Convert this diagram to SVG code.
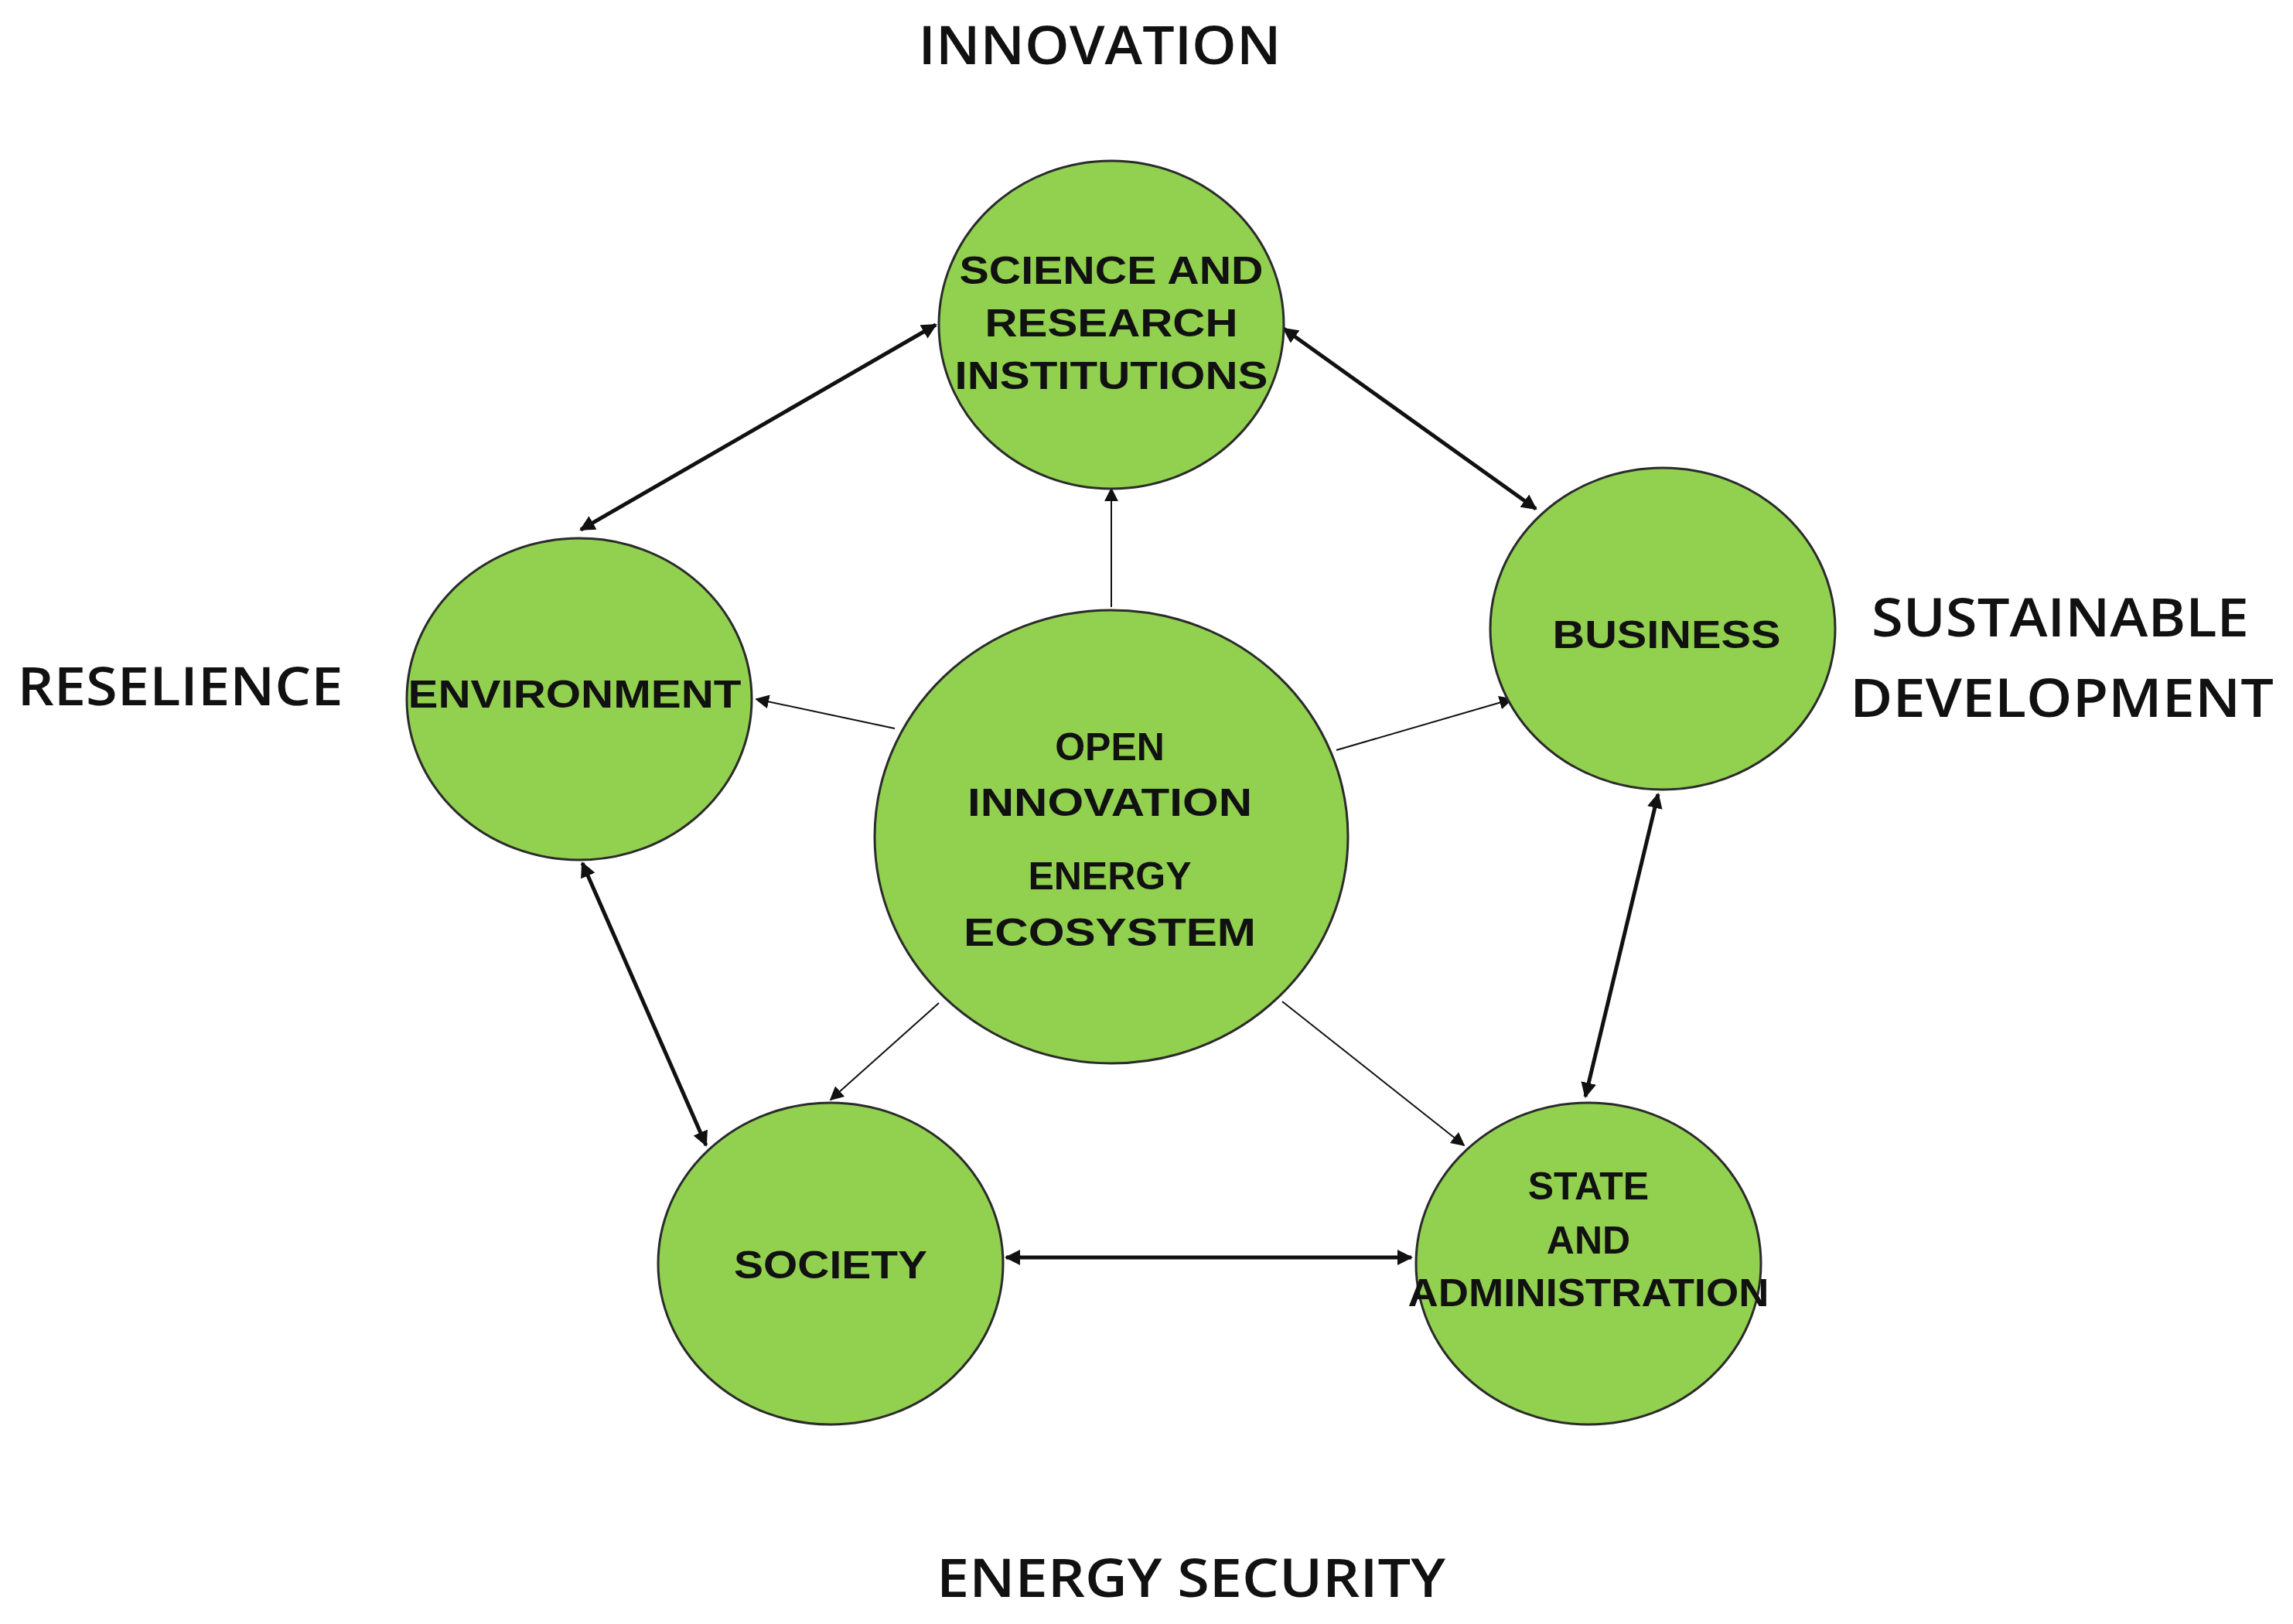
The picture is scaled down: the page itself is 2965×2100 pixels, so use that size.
<svg xmlns="http://www.w3.org/2000/svg" width="2965" height="2100" viewBox="0 0 2965 2100">
<style>
.n{fill:#92D050;stroke:#2b2b2b;stroke-width:3}
.t{font-family:"Liberation Sans",Arial,sans-serif;font-weight:bold;font-size:50px;fill:#111;text-anchor:middle}
.h{font-family:"Open Sans","Liberation Sans",sans-serif;font-weight:600;font-size:68px;fill:#111;text-anchor:middle}
.thick{stroke:#111;stroke-width:5;fill:none;marker-start:url(#a);marker-end:url(#a)}
.thin{stroke:#111;stroke-width:2;fill:none;marker-end:url(#b)}
</style>
<defs>
<marker id="a" viewBox="0 0 10 10" refX="9" refY="5" markerWidth="4" markerHeight="4" orient="auto-start-reverse" markerUnits="strokeWidth"><path d="M0,0L10,5L0,10z" fill="#111"/></marker>
<marker id="b" viewBox="0 0 10 10" refX="9" refY="5" markerWidth="9" markerHeight="9" orient="auto" markerUnits="strokeWidth"><path d="M0,0L10,5L0,10z" fill="#111"/></marker>
</defs>
<rect width="2965" height="2100" fill="#fff"/>
<g id="labels">
<text class="h" x="1422" y="83" textLength="469" lengthAdjust="spacingAndGlyphs">INNOVATION</text>
<text class="h" x="233" y="912" textLength="421" lengthAdjust="spacingAndGlyphs">RESELIENCE</text>
<text class="h" x="2664" y="823" textLength="488" lengthAdjust="spacingAndGlyphs">SUSTAINABLE</text>
<text class="h" x="2666" y="927" textLength="548" lengthAdjust="spacingAndGlyphs">DEVELOPMENT</text>
<text class="h" x="1540" y="2065" textLength="658" lengthAdjust="spacingAndGlyphs">ENERGY SECURITY</text>
</g>
<g id="connectors">
<line class="thick" x1="1210" y1="420" x2="751" y2="685"/>
<line class="thick" x1="1660" y1="425" x2="1986" y2="658"/>
<line class="thick" x1="2144" y1="1027" x2="2050" y2="1418"/>
<line class="thick" x1="753" y1="1116" x2="913" y2="1481"/>
<line class="thick" x1="1301" y1="1626" x2="1825" y2="1626"/>
<line class="thin" x1="1437" y1="785" x2="1437" y2="632"/>
<line class="thin" x1="1157" y1="942" x2="978" y2="904"/>
<line class="thin" x1="1728" y1="970" x2="1955" y2="904"/>
<line class="thin" x1="1214" y1="1297" x2="1074" y2="1422"/>
<line class="thin" x1="1658" y1="1295" x2="1893" y2="1481"/>
</g>
<g id="science"><ellipse class="n" cx="1437" cy="420" rx="223" ry="212"/>
<text class="t" x="1437" y="367" textLength="393" lengthAdjust="spacingAndGlyphs">SCIENCE AND</text>
<text class="t" x="1437" y="435" textLength="327" lengthAdjust="spacingAndGlyphs">RESEARCH</text>
<text class="t" x="1437" y="503" textLength="405" lengthAdjust="spacingAndGlyphs">INSTITUTIONS</text></g>
<g id="business"><ellipse class="n" cx="2150" cy="813" rx="223" ry="208"/>
<text class="t" x="2155" y="838" textLength="295" lengthAdjust="spacingAndGlyphs">BUSINESS</text></g>
<g id="environment"><ellipse class="n" cx="749" cy="904" rx="223" ry="208"/>
<text class="t" x="743" y="915" textLength="431" lengthAdjust="spacingAndGlyphs">ENVIRONMENT</text></g>
<g id="center"><ellipse class="n" cx="1437" cy="1082" rx="306" ry="293"/>
<text class="t" x="1435" y="983">OPEN</text>
<text class="t" x="1435" y="1055" textLength="368" lengthAdjust="spacingAndGlyphs">INNOVATION</text>
<text class="t" x="1435" y="1150">ENERGY</text>
<text class="t" x="1435" y="1223" textLength="378" lengthAdjust="spacingAndGlyphs">ECOSYSTEM</text></g>
<g id="society"><ellipse class="n" cx="1074" cy="1634" rx="223" ry="208"/>
<text class="t" x="1074" y="1653" textLength="250" lengthAdjust="spacingAndGlyphs">SOCIETY</text></g>
<g id="state"><ellipse class="n" cx="2054" cy="1634" rx="223" ry="208"/>
<text class="t" x="2054" y="1551">STATE</text>
<text class="t" x="2054" y="1621">AND</text>
<text class="t" x="2054" y="1689" textLength="467" lengthAdjust="spacingAndGlyphs">ADMINISTRATION</text></g>
</svg>
